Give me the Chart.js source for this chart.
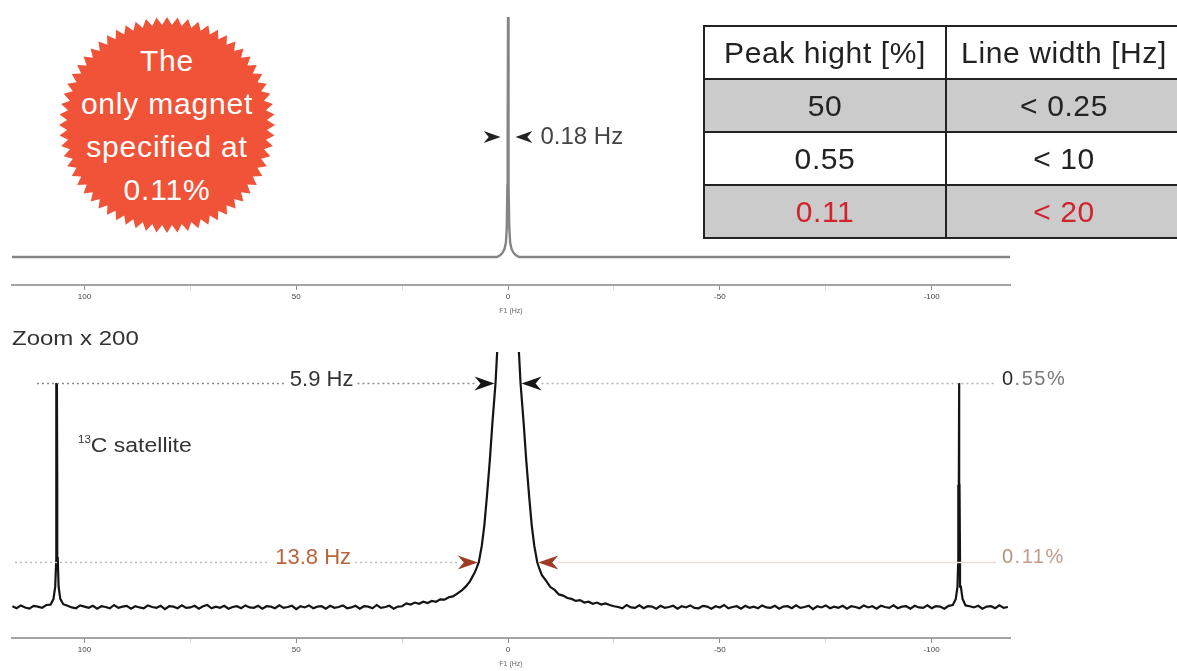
<!DOCTYPE html>
<html>
<head>
<meta charset="utf-8">
<script src="https://cdn.jsdelivr.net/npm/chart.js@4.4.1/dist/chart.umd.min.js"></script>
<style>
  body { margin:0; width:1177px; height:671px; overflow:hidden; position:relative; background:#fff;
         font-family:"Liberation Sans", Arial, Helvetica, sans-serif; }
  canvas { position:absolute; left:0; }
  #badge { position:absolute; left:59px; top:17px; width:216px; height:216px; background:#f05337; color:#fff;
           display:flex; align-items:center; justify-content:center; text-align:center;
           font-size:30px; line-height:43px; letter-spacing:0.8px; }
  #spec { position:absolute; left:703px; top:25px; border-collapse:collapse; table-layout:fixed; width:478px;
          font-size:30px; letter-spacing:0.6px; color:#222; }
  #spec td { border:2px solid #222; height:51px; padding:0; text-align:center; }
  #spec tr.grey td { background:#cbcbcb; }
  #spec tr.red td { color:#d2232a; }
  .lbl { position:absolute; color:#333; font-size:20px; line-height:22px; white-space:nowrap;
         transform-origin:left center; }
  .lbl sup { font-size:10px; vertical-align:9px; letter-spacing:0; }
</style>
</head>
<body>
<canvas id="topSpec" width="1177" height="330" style="top:0"></canvas>
<canvas id="zoomSpec" width="1177" height="341" style="top:330px"></canvas>

<div id="badge"><div>The<br>only magnet<br>specified at<br>0.11%</div></div>

<table id="spec">
  <colgroup><col style="width:242px"><col style="width:236px"></colgroup>
  <tr><td>Peak hight [%]</td><td>Line width [Hz]</td></tr>
  <tr class="grey"><td>50</td><td>&lt; 0.25</td></tr>
  <tr><td>0.55</td><td>&lt; 10</td></tr>
  <tr class="grey red"><td>0.11</td><td>&lt; 20</td></tr>
</table>

<div class="lbl" style="left:12px;top:327px;transform:scaleX(1.2)">Zoom x 200</div>
<div class="lbl" style="left:78px;top:429px;transform:scaleX(1.15)"><sup>13</sup>C satellite</div>

<script>
/* 1H spectrum: x in Hz (axis runs high -> low), y in % of main peak height */

const axisTicks = [100, 50, 0, -50, -100];

// full-scale spectrum, single line
const topPeak = [
  [117.1, 0], [2.6, 0], [1.8, 0.8], [1.2, 2], [0.8, 3.5], [0.5, 6], [0.3, 12], [0.15, 30], [0.09, 50], [0, 100],
  [-0.09, 50], [-0.15, 30], [-0.3, 12], [-0.5, 6], [-0.8, 3.5], [-1.2, 2], [-1.8, 0.8], [-2.6, 0], [-118.5, 0]
];
const topWidthHz = 0.18;
const topLevel = 50;

// x200 view: baseline noise, 1 Hz apart starting at 117 Hz (units of 0.001 %)
const noiseStartHz = 117;
const zoomNoise = [
  2,-3,4,-1,-4,3,1,-2,5,-3,0,2,-4,3,-1,-3,4,1,-2,3,
  -4,2,0,-3,5,-2,1,3,-4,2,-1,-3,4,0,-2,3,-5,2,1,-3,
  4,-2,-1,3,-4,2,5,-3,1,-2,3,-4,0,2,-3,4,-1,-2,3,-4,
  2,1,-3,4,-2,0,3,-5,2,-1,4,-3,1,2,-4,3,-2,0,4,-3,
  -1,3,-4,2,1,-3,5,-2,0,3,-4,1,2,-3,4,-1,-2,3,-4,2,
  0,-3,4,-2,3,-1,-4,2,5,-3,1,-2,3,-4,2,0,-3,4,-1,2,
  -4,3,1,-2,4,-3,0,2,-5,3,-1,4,-2,1,-3,2,4,-4,1,-2,
  3,-4,2,0,-3,5,-1,-2,4,-3,2,1,-4,3,-2,0,3,-4,2,-1,
  4,-2,-3,3,1,-4,2,-1,5,-3,0,2,-4,3,-2,1,-3,4,-1,-2,
  3,-4,1,2,-3,4,-2,0,3,-5,2,-1,4,-3,1,-2,3,-4,2,0,
  -3,4,-1,2,-4,3,0,-2,4,-3,1,2,-4,3,-1,-2,4,-3,2,1,
  -4,3,-2,0,4,-3,2,-1,3,-4,1,2,-3,4,-2,0
];

// main line and its foot
const centralPeak = [
  [24,0.009],[23,0.006],[22,0.011],[21,0.008],[20,0.013],[19,0.010],[18,0.015],[17,0.013],[16,0.019],[15,0.018],
  [14,0.024],[13,0.026],[12,0.033],[11,0.040],[10,0.050],[9,0.063],[8,0.082],[7.4,0.096],[6.9,0.11],[6.2,0.15],
  [5.6,0.2],[5.0,0.27],[4.3,0.36],[3.7,0.45],[2.95,0.55],[2.5,0.64],[2,0.8],[1.5,1.2],[1,2.5],[0.5,8],[0,50],
  [-0.5,8],[-1,2.5],[-1.5,1.2],[-2,0.8],[-2.5,0.64],[-2.95,0.55],[-3.7,0.45],[-4.3,0.36],[-5.0,0.27],[-5.6,0.2],
  [-6.2,0.15],[-6.9,0.11],[-7.4,0.094],[-8,0.078],[-9,0.064],[-10,0.049],[-11,0.042],[-12,0.031],[-13,0.028],
  [-14,0.022],[-15,0.020],[-16,0.015],[-17,0.017],[-18,0.011],[-19,0.013],[-20,0.008],[-21,0.011],[-22,0.006],
  [-23,0.009],[-24,0.005]
];

// 13C satellites
const satellitePeaks = [
  [108,0.006],[107.3,0.02],[106.9,0.05],[106.7,0.12],[106.58,0.3],[106.5,0.55],[106.42,0.3],[106.3,0.12],[106.1,0.05],[105.7,0.02],[105,0.007],
  [-105,0.005],[-105.7,0.02],[-106.1,0.05],[-106.3,0.12],[-106.42,0.3],[-106.5,0.55],[-106.58,0.3],[-106.7,0.12],[-106.9,0.05],[-107.3,0.02],[-108,0.004]
];

const zoomLevels   = [0.55, 0.11];
const zoomWidthsHz = [5.9, 13.8];
const widthLabels  = ['5.9 Hz', '13.8 Hz'];
const levelLabels  = ['0.55%', '0.11%'];

/* ── 組合資料 ── */
function zoomSeries() {
  const pts = [];
  zoomNoise.forEach((n, i) => {
    const hz = noiseStartHz - i;
    const a = Math.abs(hz);
    if (a <= 24 || (a >= 105 && a <= 108)) return;
    pts.push({ x: hz, y: n / 1000 });
  });
  centralPeak.concat(satellitePeaks).forEach(([x, y]) => pts.push({ x, y }));
  return pts.sort((p, q) => p.x - q.x);
}

/* ── 繪圖工具 ── */
const FONT = '"Liberation Sans", Arial, Helvetica, sans-serif';

function arrow(ctx, tipX, y, dir, color, len, half) {
  ctx.save();
  ctx.fillStyle = color;
  ctx.beginPath();
  ctx.moveTo(tipX, y);
  ctx.lineTo(tipX - dir * len, y - half);
  ctx.lineTo(tipX - dir * len * 0.7, y);
  ctx.lineTo(tipX - dir * len, y + half);
  ctx.closePath();
  ctx.fill();
  ctx.restore();
}

function hline(ctx, x1, x2, y, color, dash) {
  if (x2 <= x1) return;
  ctx.save();
  ctx.strokeStyle = color;
  ctx.lineWidth = 1.5;
  ctx.setLineDash(dash);
  ctx.beginPath();
  ctx.moveTo(x1, y);
  ctx.lineTo(x2, y);
  ctx.stroke();
  ctx.restore();
}

const topMarks = {
  id: 'topMarks',
  afterDatasetsDraw(chart) {
    const { ctx, scales: { x, y } } = chart;
    const yy = Math.round(y.getPixelForValue(topLevel));
    const l = x.getPixelForValue(topWidthHz / 2) - 7;
    const r = x.getPixelForValue(-topWidthHz / 2) + 7;
    arrow(ctx, l, yy, 1, '#222', 17, 6);
    arrow(ctx, r, yy, -1, '#222', 17, 6);
    ctx.save();
    ctx.font = '24px ' + FONT;
    ctx.fillStyle = '#444';
    ctx.textBaseline = 'middle';
    ctx.fillText('0.18 Hz', r + 25, yy);
    ctx.restore();
  }
};

const zoomStyles = [
  { text: '#333', arrow: '#161616', dots: '#8c8c8c', right: '#b4b4b4', rightDash: [2, 3], lbl0: '#2a2a2a', lbl: '#7a7a7a', labelHz: 44, startX: 37, dy: -4 },
  { text: '#b8643c', arrow: '#a03c26', dots: '#bdbdbd', right: '#e8dfdb', rightDash: [], lbl0: '#b99080', lbl: '#c49c8e', labelHz: 46, startX: 15, dy: -5 }
];

const zoomMarks = {
  id: 'zoomMarks',
  afterDatasetsDraw(chart) {
    const { ctx, chartArea, scales: { x, y } } = chart;
    zoomLevels.forEach((lvl, i) => {
      const s = zoomStyles[i];
      const yy = Math.round(y.getPixelForValue(lvl)) + 0.5;
      const lTip = x.getPixelForValue(zoomWidthsHz[i] / 2) - 1;
      const rTip = x.getPixelForValue(-zoomWidthsHz[i] / 2) + 1;
      const len = 20;

      ctx.save();
      ctx.font = '22px ' + FONT;
      const cx = x.getPixelForValue(s.labelHz);
      const w = ctx.measureText(widthLabels[i]).width;
      ctx.restore();

      hline(ctx, s.startX, cx - w / 2 - 5, yy, s.dots, [2, 3]);
      hline(ctx, cx + w / 2 + 4, lTip - len, yy, s.dots, [2, 3]);
      hline(ctx, rTip + len, chartArea.right - 14, yy, s.right, s.rightDash);

      arrow(ctx, lTip, yy, 1, s.arrow, len, 7);
      arrow(ctx, rTip, yy, -1, s.arrow, len, 7);

      ctx.save();
      ctx.font = '22px ' + FONT;
      ctx.fillStyle = s.text;
      ctx.textAlign = 'center';
      ctx.textBaseline = 'middle';
      ctx.fillText(widthLabels[i], cx, yy + s.dy);

      // level label, leading digit darker
      ctx.font = '20px ' + FONT;
      ctx.letterSpacing = '1.5px';
      ctx.textAlign = 'left';
      const lx = chartArea.right - 8;
      const head = levelLabels[i].slice(0, 1);
      ctx.fillStyle = s.lbl0;
      ctx.fillText(head, lx, yy + s.dy);
      ctx.fillStyle = s.lbl;
      ctx.fillText(levelLabels[i].slice(1), lx + ctx.measureText(head).width, yy + s.dy);
      ctx.restore();
    });
  }
};

function specOptions(ymin, ymax, padding, axisH) {
  return {
    responsive: false, animation: false, devicePixelRatio: 1,
    layout: { padding },
    plugins: { legend: { display: false }, tooltip: { enabled: false } },
    scales: {
      x: {
        type: 'linear', reverse: true, min: -118.5, max: 117.1,
        afterFit: s => { s.height = axisH; },
        border: { display: true, color: '#a3a3a3', width: 2 },
        grid: {
          drawOnChartArea: false, drawTicks: true, tickLength: 5,
          tickColor: c => axisTicks.includes(c.tick && c.tick.value) ? '#8c8c8c' : '#d8d8d8'
        },
        ticks: {
          stepSize: 25, includeBounds: false, autoSkip: false, maxRotation: 0, padding: 2,
          color: '#444', font: { size: 8, family: FONT },
          callback: v => axisTicks.includes(v) ? String(v) : ''
        },
        title: { display: true, text: 'F1 (Hz)', color: '#666', font: { size: 7, family: FONT }, padding: { top: 1, bottom: 0 } }
      },
      y: { display: false, min: ymin, max: ymax }
    }
  };
}

new Chart(document.getElementById('topSpec'), {
  type: 'line',
  data: {
    datasets: [{
      data: topPeak.map(([x, y]) => ({ x, y })),
      borderColor: '#858585', borderWidth: 2.4, pointRadius: 0, tension: 0
    }]
  },
  options: specOptions(-11.67, 100, { top: 17, left: 12, right: 167, bottom: 15 }, 30),
  plugins: [topMarks]
});

new Chart(document.getElementById('zoomSpec'), {
  type: 'line',
  data: {
    datasets: [{
      data: zoomSeries(),
      borderColor: '#141414', borderWidth: 2.2, pointRadius: 0, tension: 0
    }]
  },
  options: specOptions(-0.076, 0.626, { top: 22, left: 12, right: 167, bottom: 3 }, 30),
  plugins: [zoomMarks]
});

/* badge outline: toothed circle */
(() => {
  const teeth = 64, pts = [];
  for (let i = 0; i < teeth * 2; i++) {
    const a = i * Math.PI / teeth;
    const r = i % 2 === 0 ? 50 : 46.3;
    pts.push(`${(50 + r * Math.sin(a)).toFixed(2)}% ${(50 - r * Math.cos(a)).toFixed(2)}%`);
  }
  document.getElementById('badge').style.clipPath = `polygon(${pts.join(',')})`;
})();
</script>
</body>
</html>
